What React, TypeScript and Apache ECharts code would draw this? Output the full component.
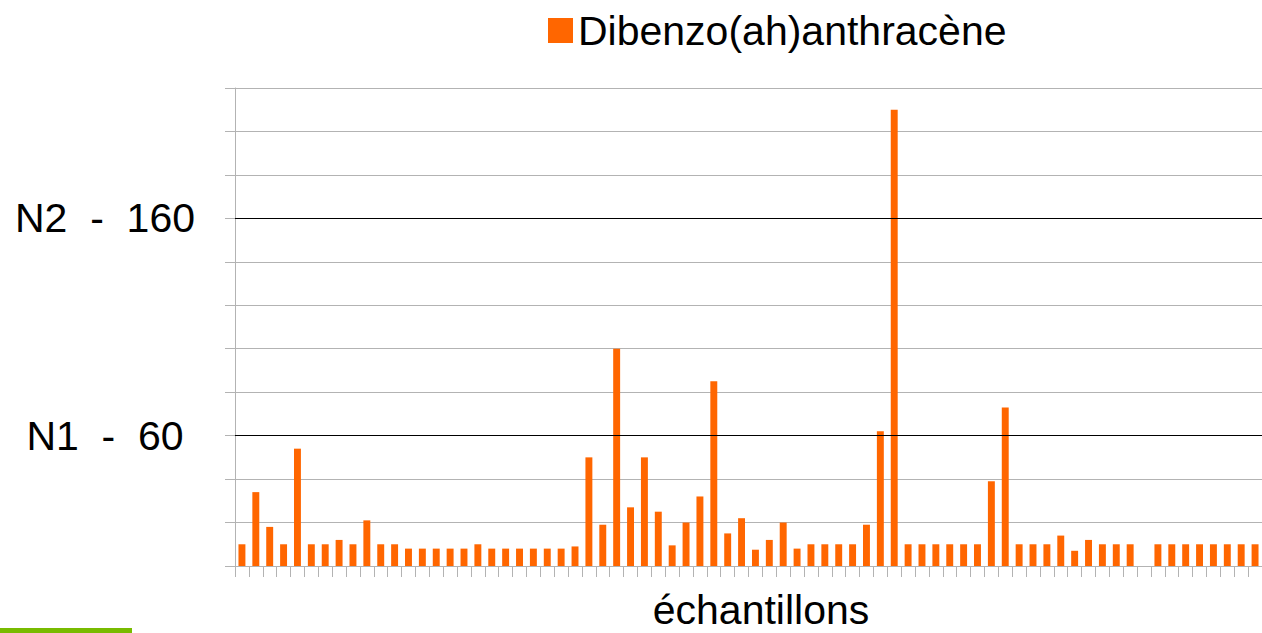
import React, { useEffect, useRef } from "react";
import * as echarts from "echarts";

const seriesName = "Dibenzo(ah)anthracène";
const axisName = "échantillons";

const values: number[] = [
  10, 34, 18, 10, 54, 10, 10, 12, 10, 21,
  10, 10, 8, 8, 8, 8, 8, 10, 8, 8,
  8, 8, 8, 8, 9,
  50, 19, 100, 27, 50, 25, 9.5, 20, 32, 85,
  15, 22, 7.5, 12, 20, 8, 10, 10, 10, 10,
  19, 62, 210, 10, 10, 10,
  10, 10, 10, 39, 73, 10, 10, 10, 14, 7,
  12, 10, 10, 10, 0, 10, 10, 10, 10, 10,
  10, 10, 10,
];

const categories: string[] = values.map((_, i) => String(i + 1));

const thresholdValues: number[] = [60, 160];
const thresholdLabels: string[] = ["N1  -  60", "N2  -  160"];

const yMin = 0;
const yMax = 220;
const yInterval = 20;

const FONT = "'Liberation Sans', Arial, sans-serif";

export default function App() {
  const ref = useRef<HTMLDivElement>(null);

  useEffect(() => {
    document.body.style.margin = "0";
    const chart = echarts.init(ref.current!, null, { renderer: "svg" });
    const gray = "#b3b3b3";
    chart.setOption({
      animation: false,
      backgroundColor: "#ffffff",
      textStyle: { fontFamily: FONT },
      legend: {
        data: [seriesName],
        left: 543,
        top: 5,
        icon: "rect",
        itemWidth: 25,
        itemHeight: 25,
        textStyle: { fontSize: 41, color: "#000000", fontFamily: FONT },
      },
      grid: {
        left: 235,
        right: 0,
        top: 88,
        bottom: 67,
        containLabel: false,
        outerBoundsMode: "none",
      },
      xAxis: {
        type: "category",
        data: categories,
        boundaryGap: true,
        name: axisName,
        nameLocation: "middle",
        nameGap: 23,
        nameTextStyle: {
          fontSize: 41,
          color: "#000000",
          fontFamily: FONT,
          padding: [0, 0, 0, 25],
        },
        axisLine: { show: true, lineStyle: { color: gray, width: 1 } },
        axisTick: {
          show: true,
          interval: 0,
          length: 11,
          alignWithLabel: false,
          lineStyle: { color: gray },
        },
        axisLabel: { show: false },
        splitLine: { show: false },
      },
      yAxis: {
        type: "value",
        min: yMin,
        max: yMax,
        interval: yInterval,
        axisLine: { show: true, lineStyle: { color: gray, width: 1 } },
        axisTick: { show: true, length: 10, lineStyle: { color: gray } },
        splitLine: { show: true, lineStyle: { color: gray, width: 1 } },
        axisLabel: {
          show: true,
          fontSize: 41,
          color: "#000000",
          fontFamily: FONT,
          align: "center",
          margin: 130,
          formatter: (v: number) => {
            const idx = thresholdValues.indexOf(v);
            return idx >= 0 ? thresholdLabels[idx] : "";
          },
        },
      },
      series: [
        {
          name: seriesName,
          type: "bar",
          data: values,
          barWidth: "50%",
          itemStyle: { color: "#ff6600" },
          markLine: {
            silent: true,
            symbol: "none",
            label: { show: false },
            lineStyle: { color: "#000000", width: 1, type: "solid" },
            data: thresholdValues.map((v) => ({ yAxis: v })),
          },
        },
      ],
      graphic: [
        {
          type: "rect",
          left: 0,
          bottom: 0,
          shape: { width: 132, height: 5 },
          style: { fill: "#78bb00" },
          silent: true,
        },
      ],
    });
    return () => chart.dispose();
  }, []);

  return (
    <div
      ref={ref}
      style={{ position: "fixed", left: 0, top: 0, width: 1262, height: 633 }}
    />
  );
}
